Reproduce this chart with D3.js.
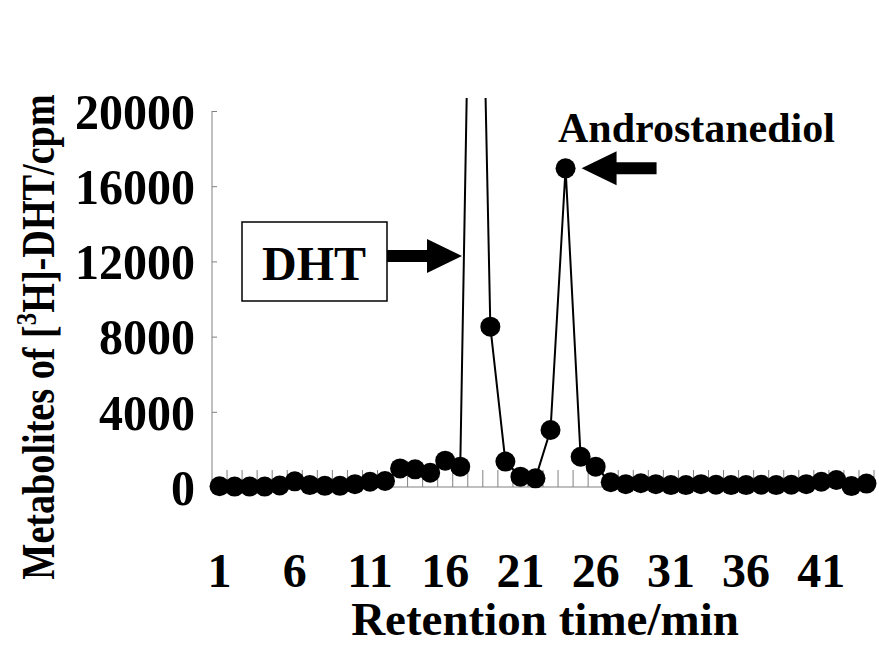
<!DOCTYPE html>
<html lang="en">
<head>
    <meta charset="utf-8">
    <title>Metabolites of [3H]-DHT</title>
    <style>
        body { margin: 0; background: #fff; }
        text { font-family: "Liberation Serif", "Times New Roman", serif; font-weight: bold; fill: #000; }
    </style>
</head>
<body>
    <svg id="chart" width="879" height="646"></svg>
    <script src="https://cdn.jsdelivr.net/npm/d3@7"></script>
    <script>
        // retention time (min) and counts
        const minutes = d3.range(1, 45);
        const counts = [
            40, 20, 20, 20, 80, 300, 100, 60, 60, 150,
            280, 320, 990, 940, 760, 1400, 1080, 47000, 8530, 1350,
            550, 460, 3030, 16950, 1610, 1080, 250, 150, 200, 150,
            100, 100, 150, 120, 100, 100, 120, 100, 120, 150,
            280, 370, 50, 180
        ];
        const yTicks = [0, 4000, 8000, 12000, 16000, 20000];
        const xTickLabels = [1, 6, 11, 16, 21, 26, 31, 36, 41];

        const svg = d3.select("#chart");
        const plotLeft = 212, plotRight = 874, plotTop = 111, plotBottom = 487;

        const x = d3.scaleBand().domain(minutes).range([plotLeft, plotRight]);
        const y = d3.scaleLinear().domain([0, 20000]).range([plotBottom, plotTop]);
        const cx = d => x(d) + x.bandwidth() / 2;

        const data = minutes.map((m, i) => ({ m, v: counts[i] }));

        svg.append("defs").append("clipPath")
            .attr("id", "plot")
            .append("rect")
                .attr("x", 0).attr("y", 98)
                .attr("width", 879).attr("height", 548);

        // y axis, ticks inside
        const yAxis = svg.append("g")
            .attr("transform", `translate(${plotLeft},0)`)
            .call(d3.axisRight(y).tickValues(yTicks).tickSize(5).tickFormat(""));
        yAxis.select(".domain").attr("d", `M0,${plotTop}V${plotBottom}`);
        yAxis.selectAll("path, line").attr("stroke", "#808080");

        svg.append("g").selectAll("text")
            .data(yTicks)
            .join("text")
                .attr("transform", d => `translate(195,${y(d)}) scale(1,1.06)`)
                .attr("dy", "0.35em")
                .attr("text-anchor", "end")
                .attr("font-size", 48)
                .text(d => d);

        // x axis, ticks between categories, pointing up
        const bounds = minutes.map(m => x(m)).concat([plotRight]);
        const xAxis = svg.append("g");
        xAxis.append("line")
            .attr("x1", plotLeft).attr("x2", plotRight)
            .attr("y1", plotBottom).attr("y2", plotBottom)
            .attr("stroke", "#808080");
        xAxis.selectAll("line.tick")
            .data(bounds.slice(1))
            .join("line")
                .attr("class", "tick")
                .attr("x1", d => d).attr("x2", d => d)
                .attr("y1", plotBottom).attr("y2", plotBottom - 17)
                .attr("stroke", "#808080");

        svg.append("g").selectAll("text")
            .data(xTickLabels)
            .join("text")
                .attr("x", d => cx(d))
                .attr("y", 587)
                .attr("text-anchor", "middle")
                .attr("font-size", 48)
                .text(d => d);

        // series
        const line = d3.line().x(d => cx(d.m)).y(d => y(d.v));
        svg.append("path")
            .datum(data)
            .attr("clip-path", "url(#plot)")
            .attr("d", line)
            .attr("fill", "none")
            .attr("stroke", "#000")
            .attr("stroke-width", 2);

        svg.append("g").selectAll("circle")
            .data(data.filter(d => d.v <= 20000))
            .join("circle")
                .attr("cx", d => cx(d.m))
                .attr("cy", d => y(d.v))
                .attr("r", 10)
                .attr("fill", "#000");

        // axis titles
        svg.append("text")
            .attr("x", 545)
            .attr("y", 635)
            .attr("text-anchor", "middle")
            .attr("font-size", 47)
            .text("Retention time/min");

        const yTitle = svg.append("text")
            .attr("transform", "translate(54,337) rotate(-90) scale(0.83,1)")
            .attr("text-anchor", "middle")
            .attr("font-size", 46);
        yTitle.append("tspan").text("Metabolites of [");
        yTitle.append("tspan").attr("font-size", 30).attr("dy", -18).text("3");
        yTitle.append("tspan").attr("dy", 18).text("H]-DHT/cpm");

        // annotations
        svg.append("rect")
            .attr("x", 242).attr("y", 222)
            .attr("width", 145).attr("height", 79)
            .attr("fill", "none")
            .attr("stroke", "#000")
            .attr("stroke-width", 1.5);
        svg.append("text")
            .attr("x", 314).attr("y", 280)
            .attr("text-anchor", "middle")
            .attr("font-size", 48)
            .text("DHT");

        function arrow(tipX, tipY, dir) {
            // dir: 1 points right, -1 points left
            const pts = [
                [0, 0], [-35, -17], [-35, -6], [-75, -6], [-75, 6], [-35, 6], [-35, 17]
            ].map(p => [tipX + dir * p[0], tipY + p[1]]);
            svg.append("polygon")
                .attr("points", pts.map(p => p.join(",")).join(" "))
                .attr("fill", "#000");
        }
        arrow(462, 256, 1);
        arrow(cx(24) + 16, y(16950), -1);

        svg.append("text")
            .attr("x", 558).attr("y", 142)
            .attr("font-size", 42)
            .text("Androstanediol");
    </script>
</body>
</html>
